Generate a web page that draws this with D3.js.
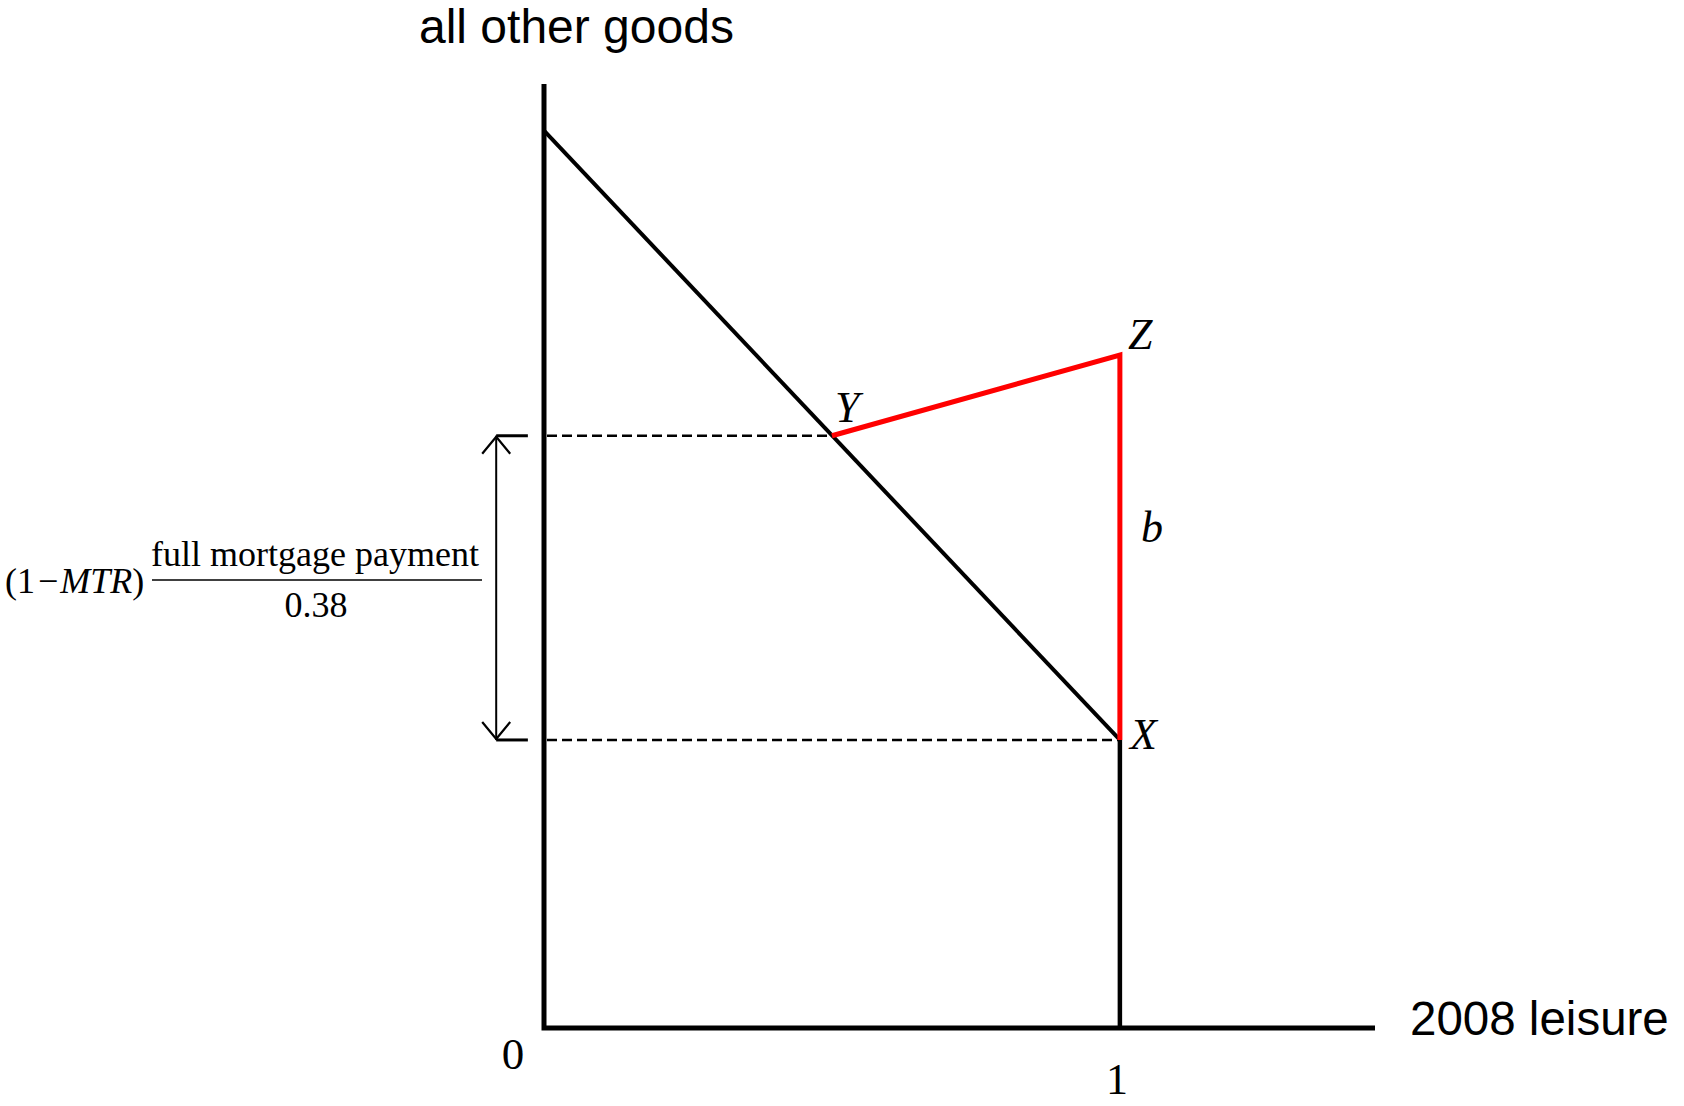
<!DOCTYPE html>
<html>
<head>
<meta charset="utf-8">
<script src="https://cdn.jsdelivr.net/npm/d3@7"></script>
<style>
  html, body { margin: 0; padding: 0; background: #fff; }
  svg { display: block; }
</style>
</head>
<body>
<svg id="chart" width="1684" height="1106"></svg>
<script>
// ---- data (model units) ----
const xDomain = [0, 1.443];          // horizontal extent of leisure axis
const yDomain = [0, 1.052];          // vertical extent of goods axis
const budgetLine = [ {x: 0, y: 1.0}, {x: 1, y: 0.321} ];   // original budget line (top to X)
const pointX = {x: 1, y: 0.321};
const pointY = {x: 0.5, y: 0.66};
const pointZ = {x: 1, y: 0.75};
const redKink = [ pointY, pointZ, pointX ];                  // Y -> Z -> X
const floorLine = [ {x: 1, y: 0.321}, {x: 1, y: 0} ];        // vertical segment from X to axis
const dashedLevels = [ pointY, pointX ];
const arrowX = -0.083;
const tickEndX = -0.028;
const pointLabels = [
  {name: "Y", p: pointY, dx: 3,  dy: -14},
  {name: "Z", p: pointZ, dx: 8,  dy: -6},
  {name: "X", p: pointX, dx: 10, dy: 9},
  {name: "b", p: {x: 1, y: 0.545}, dx: 21, dy: 3}
];
const tickLabels = [ {v: 0, text: "0"}, {v: 1, text: "1"} ];
const xAxisTitle = "2008 leisure";
const yAxisTitle = "all other goods";
const fracNumerator = "full mortgage payment";
const fracDenominator = "0.38";

// ---- scales ----
const svg = d3.select("#chart");
const x = d3.scaleLinear().domain(xDomain).range([544, 1375]);
const y = d3.scaleLinear().domain(yDomain).range([1028, 84]);
const line = d3.line().x(d => x(d.x)).y(d => y(d.y));

const serif = "'Liberation Serif', 'Times New Roman', serif";
const sans = "'Liberation Sans', Arial, sans-serif";

// dashed guide lines
svg.selectAll("line.dash").data(dashedLevels).enter().append("line")
  .attr("x1", x(0) + 3).attr("x2", d => x(d.x))
  .attr("y1", d => y(d.y)).attr("y2", d => y(d.y))
  .attr("stroke", "#000").attr("stroke-width", 2.5)
  .attr("stroke-dasharray", "10,5");

// solid short ticks of the bracket
svg.selectAll("line.tick").data(dashedLevels).enter().append("line")
  .attr("x1", x(arrowX)).attr("x2", x(tickEndX))
  .attr("y1", d => y(d.y)).attr("y2", d => y(d.y))
  .attr("stroke", "#000").attr("stroke-width", 3);

// double arrow
const ax = x(arrowX), aTop = y(pointY.y), aBot = y(pointX.y);
svg.append("line").attr("x1", ax).attr("x2", ax).attr("y1", aTop).attr("y2", aBot)
  .attr("stroke", "#000").attr("stroke-width", 2);
svg.append("path").attr("d", `M${ax-14},${aTop+18}L${ax},${aTop+1}L${ax+14},${aTop+18}`)
  .attr("fill", "none").attr("stroke", "#000").attr("stroke-width", 2.2);
svg.append("path").attr("d", `M${ax-14},${aBot-18}L${ax},${aBot-1}L${ax+14},${aBot-18}`)
  .attr("fill", "none").attr("stroke", "#000").attr("stroke-width", 2.2);

// axes
svg.append("path").attr("d", line([{x: 0, y: yDomain[1]}, {x: 0, y: 0}, {x: xDomain[1], y: 0}]))
  .attr("fill", "none").attr("stroke", "#000").attr("stroke-width", 5).attr("stroke-linejoin", "miter");

// budget line
svg.append("path").attr("d", line(budgetLine))
  .attr("fill", "none").attr("stroke", "#000").attr("stroke-width", 4);

// vertical segment below X
svg.append("path").attr("d", line(floorLine))
  .attr("fill", "none").attr("stroke", "#000").attr("stroke-width", 4.5);

// red kink
svg.append("path").attr("d", line(redKink))
  .attr("fill", "none").attr("stroke", "#ff0000").attr("stroke-width", 5)
  .attr("stroke-linejoin", "miter");

// point labels (italic serif)
svg.selectAll("text.pt").data(pointLabels).enter().append("text")
  .attr("x", d => x(d.p.x) + d.dx).attr("y", d => y(d.p.y) + d.dy)
  .attr("font-family", serif).attr("font-style", "italic").attr("font-size", 44)
  .text(d => d.name);

// tick labels
svg.append("text").attr("x", x(tickLabels[0].v) - 31).attr("y", 1069)
  .attr("font-family", serif).attr("font-size", 45).attr("text-anchor", "middle")
  .text(tickLabels[0].text);
svg.append("text").attr("x", x(tickLabels[1].v) - 3).attr("y", 1094)
  .attr("font-family", serif).attr("font-size", 44).attr("text-anchor", "middle")
  .text(tickLabels[1].text);

// axis titles
svg.append("text").attr("x", 419).attr("y", 43)
  .attr("font-family", sans).attr("font-size", 48).text(yAxisTitle);
svg.append("text").attr("x", 1410).attr("y", 1035)
  .attr("font-family", sans).attr("font-size", 47.5).text(xAxisTitle);

// fraction label
const fr = svg.append("text").attr("x", 5).attr("y", 593)
  .attr("font-family", serif).attr("font-size", 36);
fr.append("tspan").text("(1");
fr.append("tspan").attr("dx", 3).text("\u2212");
fr.append("tspan").attr("dx", 2).attr("font-style", "italic").text("MTR");
fr.append("tspan").text(")");

svg.append("text").attr("x", 315).attr("y", 566)
  .attr("font-family", serif).attr("font-size", 36).attr("text-anchor", "middle")
  .text(fracNumerator);
svg.append("line").attr("x1", 152).attr("x2", 482).attr("y1", 580).attr("y2", 580)
  .attr("stroke", "#000").attr("stroke-width", 1.6);
svg.append("text").attr("x", 316).attr("y", 617)
  .attr("font-family", serif).attr("font-size", 36).attr("text-anchor", "middle")
  .text(fracDenominator);
</script>
</body>
</html>
